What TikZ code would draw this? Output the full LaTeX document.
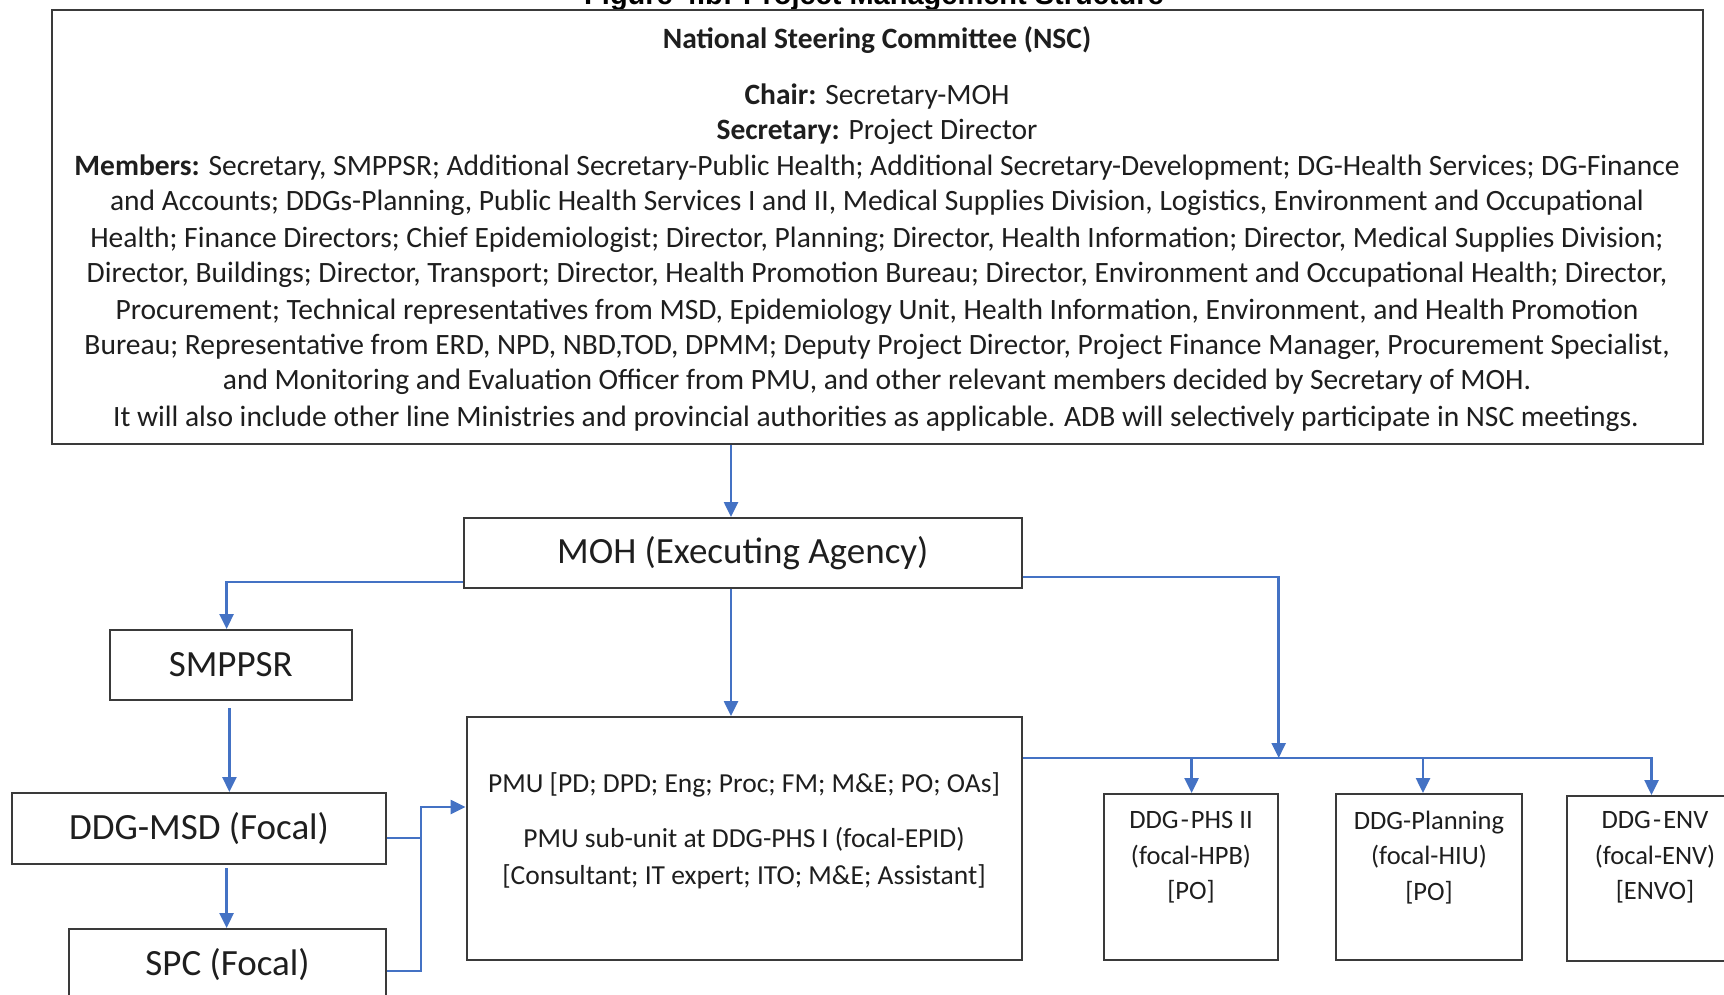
\documentclass[tikz,border=0pt]{standalone}
\usepackage{fontspec}
\setmainfont{Carlito}
\newfontfamily\arialfont{Liberation Sans}
\usetikzlibrary{arrows.meta,calc}
\definecolor{conncol}{HTML}{4472C4}
\definecolor{boxcol}{HTML}{3A3A3A}
\definecolor{txtcol}{HTML}{1E1E1E}
\begin{document}
\begin{tikzpicture}[x=1pt,y=-1pt,
  box/.style={draw=boxcol,line width=2pt,inner sep=0pt,rectangle,text=txtcol},
  nsct/.style={anchor=base,inner sep=0pt,text=txtcol,font=\fontsize{29.5}{35.5}\selectfont},
  bigt/.style={font=\fontsize{37}{44}\selectfont},
  conn/.style={draw=conncol,line width=2.6pt},
  arr/.style={conn,-{Triangle[length=15pt,width=14pt]}},
  smallt/.style={inner sep=0pt,align=center,text=txtcol,font=\fontsize{26.5}{35.5}\selectfont}]
\useasboundingbox (0,0) rectangle (1724,995);
% title (cut at top)
\node[anchor=base,inner sep=0pt,font=\arialfont\bfseries\fontsize{29}{34}\selectfont] (title) at (874,4.5) {Figure 4.b: Project Management Structure};
% NSC
\node[box,minimum width=1651pt,minimum height=434pt] (nsc) at (877.4,227) {};
\node[nsct] (l1) at (877,48.5) {\bfseries National Steering Committee (NSC)};
\node[nsct] (l2) at (877,104.6) {\textbf{Chair:} Secretary-MOH};
\node[nsct] (l3) at (877,139.7) {\textbf{Secretary:} Project Director};
\node[nsct] (l4) at (877,176) {\textbf{Members:} Secretary, SMPPSR; Additional Secretary-Public Health; Additional Secretary-Development; DG-Health Services; DG-Finance};
\node[nsct] (l5) at (877,211) {and Accounts; DDGs-Planning, Public Health Services I and II, Medical Supplies Division, Logistics, Environment and Occupational};
\node[nsct] (l6) at (877,247.5) {Health; Finance Directors; Chief Epidemiologist; Director, Planning; Director, Health Information; Director, Medical Supplies Division;};
\node[nsct] (l7) at (877,282.7) {Director, Buildings; Director, Transport; Director, Health Promotion Bureau; Director, Environment and Occupational Health; Director,};
\node[nsct] (l8) at (877,319) {Procurement; Technical representatives from MSD, Epidemiology Unit, Health Information, Environment, and Health Promotion};
\node[nsct] (l9) at (877,354) {Bureau; Representative from ERD, NPD, NBD,TOD, DPMM; Deputy Project Director, Project Finance Manager, Procurement Specialist,};
\node[nsct] (l10) at (877,389) {and Monitoring and Evaluation Officer from PMU, and other relevant members decided by Secretary of MOH.};
\node[nsct] (l11) at (876,426.7) {It will also include other line Ministries and provincial authorities as applicable. ADB will selectively participate in NSC meetings.};
% MOH
\node[box,bigt,minimum width=557.5pt,minimum height=70pt] (moh) at (742.75,553) {MOH (Executing Agency)};
% left column
\node[box,bigt,minimum width=241.5pt,minimum height=70pt] (smppsr) at (230.75,665) {SMPPSR};
\node[box,bigt,minimum width=374pt,minimum height=71pt] (msd) at (199,828.5) {DDG-MSD (Focal)};
\node[box,bigt,minimum width=317pt,minimum height=71pt] (spc) at (227.5,964.5) {SPC (Focal)};
% PMU
\node[box,minimum width=555.5pt,minimum height=243pt] (pmu) at (744.25,838.5) {};
\node[smallt,font=\fontsize{27.5}{37}\selectfont] (p1) at (744,785) {PMU [PD; DPD; Eng; Proc; FM; M\&E; PO; OAs]};
\node[smallt,font=\fontsize{27.5}{37}\selectfont] (p2) at (744,858.5) {PMU sub-unit at DDG-PHS I (focal-EPID)\\{}[Consultant; IT expert; ITO; M\&E; Assistant]};
% right boxes
\node[box,minimum width=173.6pt,minimum height=166pt] (phs) at (1190.8,877) {};
\node[box,minimum width=185.7pt,minimum height=166pt] (plan) at (1428.85,877) {};
\node[box,minimum width=176pt,minimum height=165pt] (env) at (1655,878.5) {};
\node[smallt] (t1) at (1191,857.5) {DDG\kern0.08em-\kern0.08em PHS II\\(focal-HPB)\\{}[PO]};
\node[smallt] (t2) at (1429,857.5) {DDG-Planning\\(focal-HIU)\\{}[PO]};
\node[smallt] (t3) at (1655,857.5) {DDG\kern0.08em-\kern0.08em ENV\\(focal-ENV)\\{}[ENVO]};
% connectors
\coordinate (cx) at (731,0);
\draw[arr] (nsc.south -| cx) -- (moh.north -| cx);
\draw[arr] (moh.south -| cx) -- (pmu.north -| cx);
\coordinate (lx) at (226.6,582);
\draw[arr] (moh.west |- lx) -- (lx) -- (smppsr.north -| lx);
\coordinate (sx) at (229.4,708);
\draw[arr] (sx) -- (msd.north -| sx);
\coordinate (mx) at (226.6,868);
\draw[arr] (mx) -- (spc.north -| mx);
\coordinate (jx) at (421,807);
\coordinate (msdout) at (msd.east |- 0,838);
\coordinate (spcout) at (spc.east |- 0,971);
\draw[conn] (msdout) -- (msdout -| jx);
\draw[arr] (spcout) -- (spcout -| jx) -- (jx) -- (pmu.west |- jx);
\coordinate (rx) at (1278.7,577);
\coordinate (bus) at (1278.7,758);
\draw[arr] (moh.east |- rx) -- (rx) -- (bus);
\coordinate (ex) at (1651.5,758);
\draw[arr] (pmu.east |- bus) -- (ex) -- (env.north -| ex);
\coordinate (px) at (1191.6,758);
\draw[arr] (px) -- (phs.north -| px);
\coordinate (qx) at (1423,758);
\draw[arr] (qx) -- (plan.north -| qx);
\end{tikzpicture}
\end{document}
